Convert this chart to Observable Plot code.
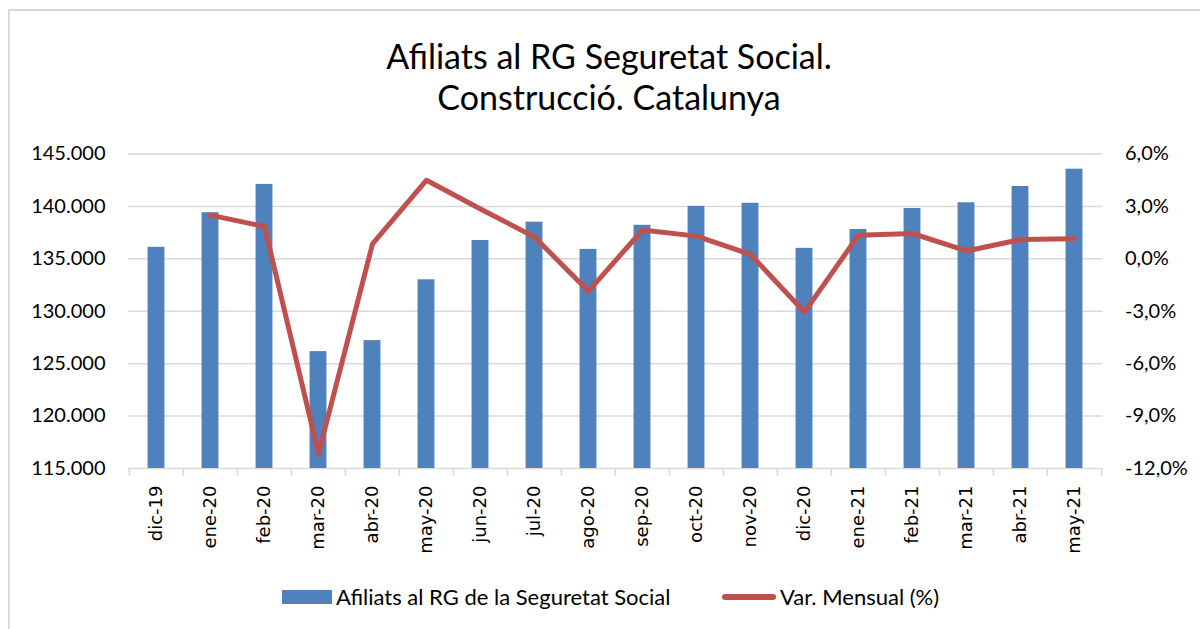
<!DOCTYPE html>
<html>
<head>
<meta charset="utf-8">
<script src="https://cdn.jsdelivr.net/npm/d3@7"></script>
<script src="https://cdn.jsdelivr.net/npm/@observablehq/plot@0.6"></script>
<style>
  html, body { margin: 0; padding: 0; background: #fff; }
  body { position: relative; width: 1200px; height: 629px; overflow: hidden; font-family: Lato, sans-serif; color: #000; }
  #frame { position: absolute; left: 8px; top: 9px; width: 1300px; height: 700px; border: 2px solid #d9d9d9; box-sizing: border-box; }
  #title { position: absolute; left: 0; top: 35px; width: 1218px; text-align: center; font-size: 34px; line-height: 41px; }
  #chart { position: absolute; left: 0; top: 135px; }
  .leg { position: absolute; font-size: 22px; line-height: 24px; white-space: nowrap; }
</style>
</head>
<body>
<div id="frame"></div>
<div id="title">Afiliats al RG Seguretat Social.<br>Construcció. Catalunya</div>
<div id="chart"></div>
<div style="position:absolute;left:282px;top:590px;width:50px;height:14px;background:#4f81bd"></div>
<div class="leg" style="left:336px;top:585px">Afiliats al RG de la Seguretat Social</div>
<div style="position:absolute;left:722px;top:594px;width:54px;height:6px;border-radius:3px;background:#c0504d"></div>
<div class="leg" style="left:780px;top:585px">Var. Mensual (%)</div>
<script>
const months = ["dic-19","ene-20","feb-20","mar-20","abr-20","may-20","jun-20","jul-20","ago-20","sep-20","oct-20","nov-20","dic-20","ene-21","feb-21","mar-21","abr-21","may-21"];
const afiliats = [136100,139400,142100,126150,127200,133000,136750,138500,135900,138200,140000,140300,136000,137800,139800,140350,141900,143550];
const varMensual = [null,2.5,1.85,-11.15,0.85,4.5,2.85,1.25,-1.85,1.65,1.3,0.25,-3.05,1.35,1.45,0.45,1.1,1.15];
const leftTicks = [115000,120000,125000,130000,135000,140000,145000];
const pctTicks = [-12,-9,-6,-3,0,3,6];

const yMin = 115000, yMax = 145000, pMin = -12, pMax = 6;
const toLeft = p => yMin + (p - pMin) / (pMax - pMin) * (yMax - yMin);
const toPct = v => (v - yMin) / (yMax - yMin) * (pMax - pMin) + pMin;

const bars = months.map((m, i) => ({m, v: afiliats[i]}));
const line = months.map((m, i) => ({m, p: varMensual[i]})).filter(d => d.p != null);

const W = 1200, H = 440, mL = 128, mR = 97.5;
const step = (W - mL - mR) / months.length;
const barW = 17;
const inset = (step - barW) / 2;

const fmtLeft = v => d3.format(",")(v).replace(/,/g, ".");
const fmtPct = v => (Math.round(toPct(v) * 10) / 10).toFixed(1).replace(".", ",") + "%";

const chart = Plot.plot({
  width: W, height: H,
  marginLeft: mL, marginRight: mR, marginTop: 18.5, marginBottom: 107,
  style: {fontFamily: "Lato, sans-serif", fontSize: "20px", color: "#000", background: "transparent"},
  x: {domain: months, padding: 0, axis: null},
  y: {domain: [yMin, yMax], axis: null},
  marks: [
    Plot.ruleY(leftTicks, {stroke: "#d9d9d9", strokeWidth: 1.5}),
    Plot.barY(bars, {x: "m", y1: yMin, y2: "v", fill: "#4f81bd", insetLeft: inset, insetRight: inset}),
    Plot.line(line, {x: "m", y: d => toLeft(d.p), stroke: "#c0504d", strokeWidth: 5, strokeLinejoin: "round", strokeLinecap: "round"}),
    Plot.axisY(leftTicks, {anchor: "left", label: null, tickSize: 0, tickPadding: 23, tickFormat: fmtLeft, fontSize: 20}),
    Plot.axisY(pctTicks.map(toLeft), {anchor: "right", label: null, tickSize: 0, tickPadding: 22, tickFormat: fmtPct, fontSize: 20}),
    Plot.axisX(months, {label: null, tickSize: 0, tickRotate: -90, tickPadding: 17, fontFamily: "DejaVu Sans, Verdana, sans-serif", fontSize: 18}),
    Plot.axisX(months, {label: null, tickSize: 8, text: null, dx: -step / 2, stroke: "#d9d9d9", strokeWidth: 1.5}),
    Plot.axisX([months[months.length - 1]], {label: null, tickSize: 8, text: null, dx: step / 2, stroke: "#d9d9d9", strokeWidth: 1.5})
  ]
});
document.getElementById("chart").append(chart);
</script>
</body>
</html>
